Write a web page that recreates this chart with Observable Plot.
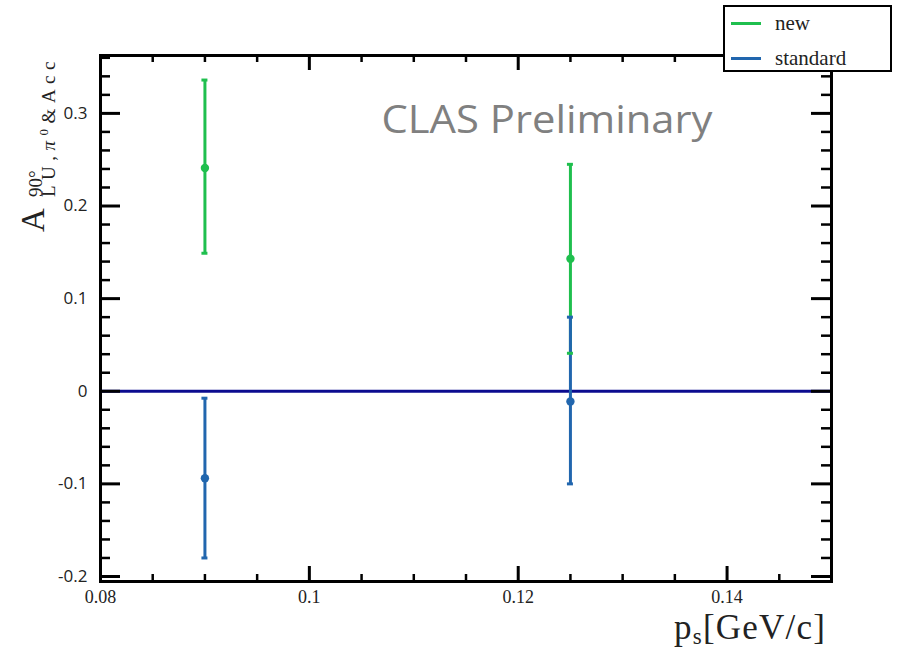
<!DOCTYPE html>
<html><head><meta charset="utf-8">
<script src="https://cdn.jsdelivr.net/npm/d3@7"></script>
<script src="https://cdn.jsdelivr.net/npm/@observablehq/plot@0.6"></script>
<style>
body{margin:0;background:#fff;}
#wrap{position:relative;width:909px;height:649px;overflow:hidden;}
#legend{position:absolute;left:723px;top:5px;width:165px;height:63px;border:2.5px solid #000;background:#fff;font-family:"Liberation Serif",serif;font-size:21px;color:#222;}
#legend .row{position:absolute;left:0;height:24px;display:flex;align-items:center;}
#legend .sw{display:inline-block;width:30px;height:3px;margin-left:6px;margin-right:14px;}
#ylab{position:absolute;left:0;top:232px;width:200px;height:70px;transform:rotate(-90deg);transform-origin:0 0;font-family:"Liberation Serif",serif;color:#222;}
#ylab span.p{position:absolute;white-space:nowrap;line-height:1;}
#ylab .a{left:0;top:17px;font-size:33px;}
#ylab .sup{left:35px;top:26px;font-size:19px;}
#ylab .sub{left:35px;top:39px;font-size:19px;letter-spacing:5.5px;}
#ylab .sub sup{font-size:13px;vertical-align:7px;line-height:0;}
#xlab{position:absolute;right:83px;top:614px;font-family:"Liberation Serif",serif;font-size:35px;letter-spacing:1.2px;color:#222;white-space:nowrap;line-height:0.8;}
#xlab sub{font-size:23px;vertical-align:-5px;line-height:0;}
</style></head><body><div id="wrap"></div>
<script>
// data
const xPos = [0.09, 0.125];
const newVal = [0.241, 0.143];
const newHi = [0.336, 0.245];
const newLo = [0.149, 0.041];
const stdVal = [-0.094, -0.011];
const stdHi = [-0.0075, 0.080];
const stdLo = [-0.180, -0.100];
const series = ["new", "standard"];
const colors = ["#1fbf4e", "#2166ae"];
const xMajor = [0.08, 0.1, 0.12, 0.14];
const xMinor = [0.085, 0.09, 0.095, 0.105, 0.11, 0.115, 0.125, 0.13, 0.135, 0.145];
const yMajor = [-0.2, -0.1, 0, 0.1, 0.2, 0.3];
const yMinor = [-0.18,-0.16,-0.14,-0.12,-0.08,-0.06,-0.04,-0.02,0.02,0.04,0.06,0.08,0.12,0.14,0.16,0.18,0.22,0.24,0.26,0.28,0.32,0.34,0.36];
const watermark = "CLAS Preliminary";

const newRows = xPos.map((x, i) => ({series: "new", x, y: newVal[i], lo: newLo[i], hi: newHi[i]}));
const stdRows = xPos.map((x, i) => ({series: "standard", x, y: stdVal[i], lo: stdLo[i], hi: stdHi[i]}));
const allRows = newRows.concat(stdRows);

const W = 909, H = 649, mL = 100, mR = 78, mT = 55, mB = 68;
const innerW = W - mL - mR, innerH = H - mT - mB;

const chart = Plot.plot({
  width: W, height: H,
  marginLeft: mL, marginRight: mR, marginTop: mT, marginBottom: mB,
  x: {domain: [0.08, 0.15], axis: null},
  y: {domain: [-0.2054, 0.3625], axis: null},
  color: {domain: series, range: colors},
  style: {background: "transparent", overflow: "visible"},
  marks: [
    Plot.ruleY([0], {stroke: "#0b0b8f", strokeWidth: 3}),
    Plot.ruleX(newRows, {x: "x", y1: "lo", y2: "hi", stroke: "series", strokeWidth: 3}),
    Plot.ruleX(stdRows, {x: "x", y1: "lo", y2: "hi", stroke: "series", strokeWidth: 3}),
    Plot.ruleY(allRows, {y: "hi", x1: "x", x2: "x", insetLeft: -3, insetRight: -3, stroke: "series", strokeWidth: 3}),
    Plot.ruleY(allRows, {y: "lo", x1: "x", x2: "x", insetLeft: -3, insetRight: -3, stroke: "series", strokeWidth: 3}),
    Plot.dot(allRows, {x: "x", y: "y", fill: "series", r: 4.2}),
    // ticks (inward)
    Plot.ruleX(xMajor, {x: d => d, insetTop: innerH - 15, stroke: "#000", strokeWidth: 3}),
    Plot.ruleX(xMajor, {x: d => d, insetBottom: innerH - 15, stroke: "#000", strokeWidth: 3}),
    Plot.ruleX(xMinor, {x: d => d, insetTop: innerH - 7, stroke: "#000", strokeWidth: 2.5}),
    Plot.ruleX(xMinor, {x: d => d, insetBottom: innerH - 7, stroke: "#000", strokeWidth: 2.5}),
    Plot.ruleY(yMajor, {y: d => d, insetRight: innerW - 20, stroke: "#000", strokeWidth: 3}),
    Plot.ruleY(yMajor, {y: d => d, insetLeft: innerW - 20, stroke: "#000", strokeWidth: 3}),
    Plot.ruleY(yMinor, {y: d => d, insetRight: innerW - 10, stroke: "#000", strokeWidth: 2.5}),
    Plot.ruleY(yMinor, {y: d => d, insetLeft: innerW - 10, stroke: "#000", strokeWidth: 2.5}),
    Plot.frame({stroke: "#000", strokeWidth: 3}),
    // tick labels
    Plot.text(xMajor, {x: d => d, text: d => String(d), frameAnchor: "bottom", dy: 16, lineAnchor: "middle", fontSize: 18, fontFamily: "Liberation Serif", fill: "#222"}),
    Plot.text(yMajor, {y: d => d, text: d => String(d), frameAnchor: "left", dx: -13, textAnchor: "end", lineAnchor: "middle", fontSize: 17, fontFamily: "Open Sans", fill: "#222"}),
    Plot.text([watermark], {frameAnchor: "top-left", dx: 281, dy: 65, textAnchor: "start", lineAnchor: "middle", fontSize: 38, fontFamily: "Open Sans", fill: "#808080"})
  ]
});

const wrap = document.getElementById("wrap");
chart.style.position = "absolute";
chart.style.left = "0px";
chart.style.top = "0px";
wrap.appendChild(chart);

const svg = d3.select(chart);
// stretch watermark to the reference width
svg.selectAll("text").filter(function() { return this.textContent === watermark; })
  .attr("textLength", 331).attr("lengthAdjust", "spacingAndGlyphs");

// y axis label (HTML, rotated)
const ylab = document.createElement("div");
ylab.id = "ylab";
ylab.innerHTML = '<span class="p a">A</span><span class="p sup">90°</span>' +
  '<span class="p sub">LU,<i>π</i><sup>0</sup>&amp;Acc</span>';
wrap.appendChild(ylab);

// x axis label
const xlab = document.createElement("div");
xlab.id = "xlab";
xlab.innerHTML = 'p<sub>s</sub>[GeV/c]';
wrap.appendChild(xlab);

// legend
const legend = document.createElement("div");
legend.id = "legend";
series.forEach((s, i) => {
  const row = document.createElement("div");
  row.className = "row";
  row.style.top = (i === 0 ? 4 : 39) + "px";
  const sw = document.createElement("span");
  sw.className = "sw";
  sw.style.background = colors[i];
  const t = document.createElement("span");
  t.textContent = s;
  row.appendChild(sw);
  row.appendChild(t);
  legend.appendChild(row);
});
wrap.appendChild(legend);
</script>
</body></html>
